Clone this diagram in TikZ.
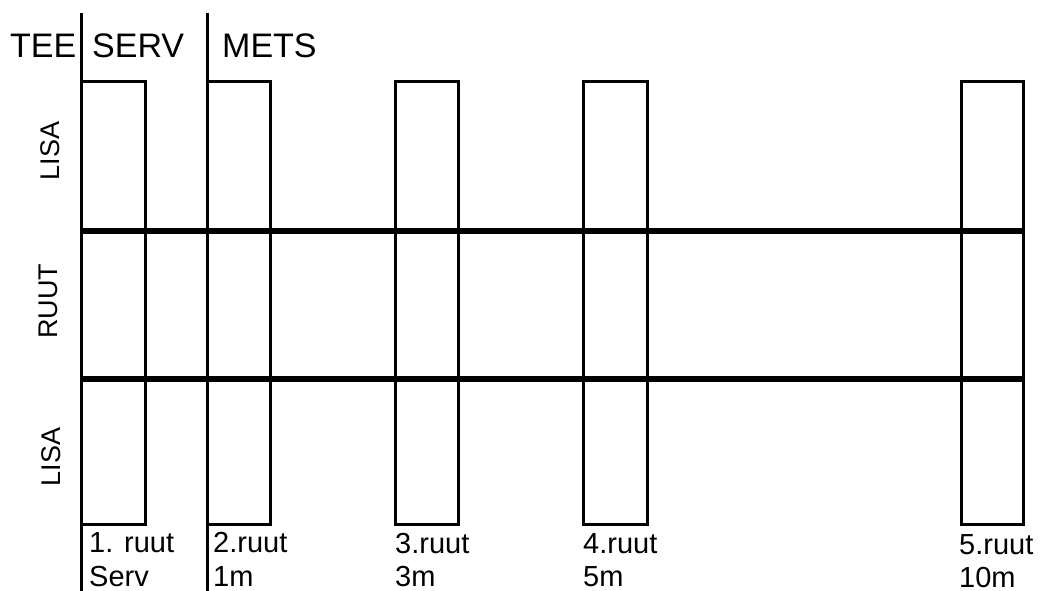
\documentclass[tikz,border=0pt]{standalone}
\usepackage{fontspec}
\setmainfont{Liberation Sans}
\begin{document}
\begin{tikzpicture}[x=1pt,y=-1pt,
  box/.style={draw,line width=3pt,inner sep=0pt,outer sep=0pt,minimum height=442pt},
  vline/.style={line width=3pt},
  hline/.style={line width=5.5pt},
  head/.style={anchor=base west,inner sep=0pt,font=\fontsize{34}{40}\selectfont},
  lab/.style={anchor=base west,inner sep=0pt,font=\fontsize{29}{32}\selectfont},
  side/.style={rotate=90,inner sep=0pt,font=\fontsize{27}{32}\selectfont}]
\useasboundingbox (0,0) rectangle (1041,591);
% boxes
\node[box,minimum width=64pt] (b1) at (113,303) {};
\node[box,minimum width=63pt] (b2) at (238.5,303) {};
\node[box,minimum width=63pt] (b3) at (426.5,303) {};
\node[box,minimum width=64pt] (b4) at (615,303) {};
\node[box,minimum width=62pt] (b5) at (992,303) {};
% long vertical lines
\coordinate (v1t) at (81,13);
\coordinate (v1b) at (81,591);
\coordinate (v2t) at (207,13);
\coordinate (v2b) at (207,591);
\draw[vline] (v1t) -- (v1b);
\draw[vline] (v2t) -- (v2b);
% horizontal lines
\coordinate (h1a) at (81,231);
\coordinate (h1b) at (1023,231);
\coordinate (h2a) at (81,379);
\coordinate (h2b) at (1023,379);
\draw[hline] (h1a) -- (h1b);
\draw[hline] (h2a) -- (h2b);
% headers
\node[head] (tee) at (10,58) {TEE};
\node[head] (serv) at (92,58) {SERV};
\node[head] (mets) at (222,58) {METS};
% side labels
\node[side] (lisa1) at (50,151) {LISA};
\node[side] (ruut) at (48,301) {RUUT};
\node[side] (lisa2) at (51,457) {LISA};
% bottom labels
\node[lab] (l1a) at (89,552) {1. ruut};
\node[lab] (l1b) at (89,586) {Serv};
\node[lab] (l2a) at (213,552) {2.ruut};
\node[lab] (l2b) at (213,586) {1m};
\node[lab] (l3a) at (395,553) {3.ruut};
\node[lab] (l3b) at (395,586) {3m};
\node[lab] (l4a) at (583,553) {4.ruut};
\node[lab] (l4b) at (583,586) {5m};
\node[lab] (l5a) at (959,554) {5.ruut};
\node[lab] (l5b) at (959,587) {10m};
\end{tikzpicture}
\end{document}
